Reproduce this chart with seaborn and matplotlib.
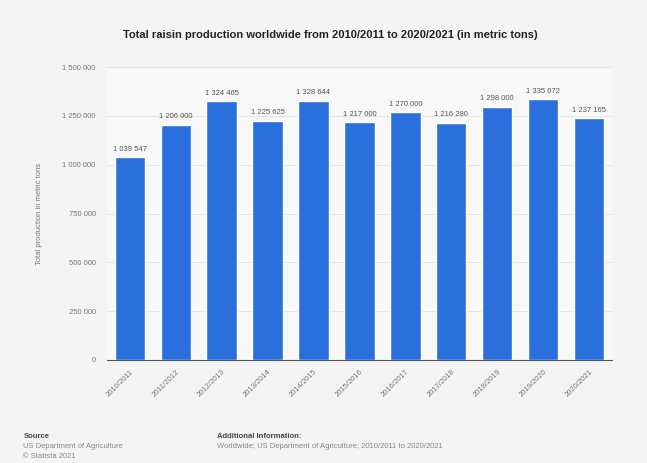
import pandas as pd
import seaborn as sns
import matplotlib.pyplot as plt
from matplotlib.ticker import FuncFormatter

# === Data
seasons = ['2010/2011', '2011/2012', '2012/2013', '2013/2014', '2014/2015', '2015/2016',
           '2016/2017', '2017/2018', '2018/2019', '2019/2020', '2020/2021']
production = [1039547, 1206000, 1324465, 1225625, 1328644, 1217000,
              1270000, 1216280, 1298000, 1335072, 1237165]
y_ticks = [0, 250000, 500000, 750000, 1000000, 1250000, 1500000]

df = pd.DataFrame({'Season': seasons, 'Production': production})

def spaced(v, pos=None):
    return f"{int(v):,}".replace(',', ' ')

# === Figure
sns.set_style("white")
plt.rcParams['font.family'] = ['Liberation Sans', 'DejaVu Sans']
bg = '#f4f4f4'
fig = plt.figure(figsize=(6.47, 4.63), dpi=100, facecolor=bg)
ax = fig.add_axes([0.165, 0.2225, 0.781, 0.6325])
ax.set_facecolor('#f8f8f8')

sns.barplot(data=df, x='Season', y='Production', color='#2a6fdb', width=0.66,
            saturation=1, ax=ax, zorder=3)

for i, v in enumerate(production):
    ax.text(i, v + 22000, spaced(v), ha='center', va='bottom', fontsize=5.5, color='#555555')

ax.set_ylim(0, 1500000)
ax.set_yticks(y_ticks)
ax.yaxis.set_major_formatter(FuncFormatter(spaced))
ax.grid(axis='y', color='#e2e2e2', linewidth=0.6, zorder=0)
for s in ['top', 'right', 'left']:
    ax.spines[s].set_visible(False)
ax.spines['bottom'].set_color('#555555')
ax.spines['bottom'].set_linewidth(0.8)
ax.tick_params(axis='y', length=0, labelsize=5.5, labelcolor='#777777', pad=8)
ax.tick_params(axis='x', length=0, labelsize=5.5, labelcolor='#777777', pad=6)
plt.setp(ax.get_xticklabels(), rotation=45, ha='right', rotation_mode='anchor')
ax.set_xlabel('')
ax.set_ylabel('Total production in metric tons', fontsize=5.5, color='#777777', labelpad=14)

# === Title and footer
fig.text(0.51, 0.925, 'Total raisin production worldwide from 2010/2011 to 2020/2021 (in metric tons)',
         ha='center', va='center', fontsize=8, fontweight='bold', color='#222222')
fig.text(0.036, 0.055, 'Source', fontsize=5.5, fontweight='bold', color='#444444')
fig.text(0.036, 0.033, 'US Department of Agriculture', fontsize=5.5, color='#888888')
fig.text(0.036, 0.011, '© Statista 2021', fontsize=5.5, color='#888888')
fig.text(0.335, 0.055, 'Additional Information:', fontsize=5.5, fontweight='bold', color='#444444')
fig.text(0.335, 0.033, 'Worldwide; US Department of Agriculture; 2010/2011 to 2020/2021',
         fontsize=5.5, color='#888888')

fig.savefig('out.png', dpi=100, facecolor=bg)
